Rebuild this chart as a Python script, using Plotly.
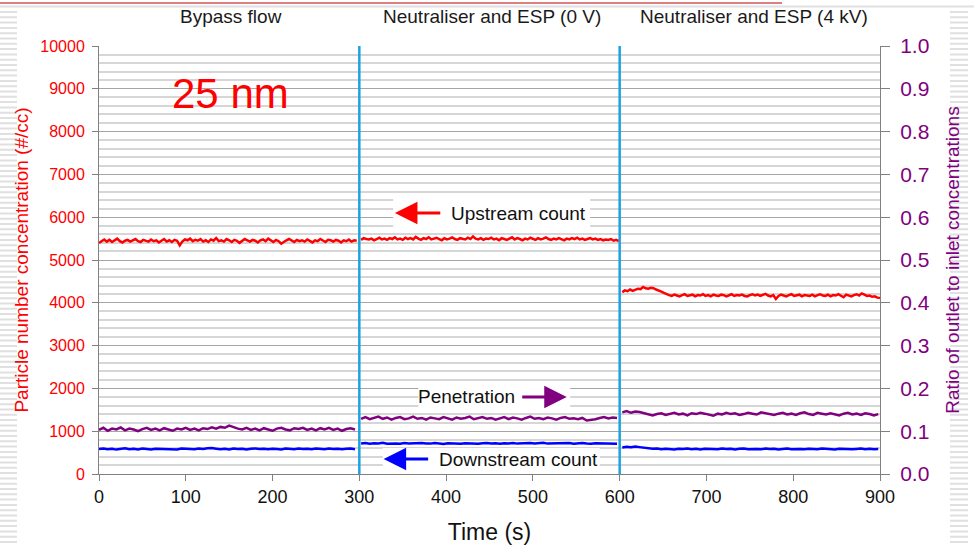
import plotly.graph_objects as go

# ---------------- data ----------------
t_up_bypass = list(range(0, 300, 3))
t_up_esp0 = list(range(302, 600, 3))
t_up_esp4 = list(range(603, 901, 3))
t_bypass = list(range(0, 300, 5))
t_esp0 = list(range(302, 600, 5))
t_esp4 = list(range(603, 900, 5))

upstream_bypass = [5400, 5450, 5480, 5430, 5470, 5420, 5460, 5500, 5440, 5410,
                   5450, 5470, 5430, 5460, 5490, 5440, 5420, 5470, 5450, 5430,
                   5480, 5440, 5460, 5410, 5450, 5490, 5430, 5460, 5420, 5470,
                   5450, 5340, 5430, 5480, 5460, 5500, 5440, 5470, 5450, 5490,
                   5430, 5460, 5420, 5480, 5450, 5510, 5440, 5460, 5430, 5490,
                   5460, 5420, 5470, 5450, 5400, 5440, 5490, 5460, 5430, 5470,
                   5450, 5410, 5460, 5480, 5440, 5500, 5460, 5420, 5470, 5440,
                   5380, 5430, 5460, 5490, 5450, 5420, 5470, 5440, 5460, 5430,
                   5480, 5450, 5410, 5460, 5440, 5490, 5450, 5420, 5470, 5460,
                   5430, 5470, 5450, 5410, 5460, 5440, 5480, 5430, 5460, 5450]
upstream_esp0 = [5470, 5510, 5490, 5480, 5500, 5460, 5490, 5520, 5480, 5500,
                 5470, 5510, 5490, 5530, 5480, 5500, 5470, 5520, 5490, 5510,
                 5480, 5540, 5500, 5470, 5510, 5490, 5530, 5480, 5500, 5520,
                 5490, 5460, 5510, 5480, 5500, 5530, 5490, 5470, 5510, 5500,
                 5480, 5520, 5490, 5550, 5500, 5480, 5510, 5470, 5500, 5490,
                 5520, 5480, 5500, 5460, 5510, 5490, 5470, 5500, 5530, 5480,
                 5510, 5490, 5460, 5500, 5480, 5520, 5490, 5470, 5510, 5480,
                 5500, 5530, 5490, 5470, 5500, 5480, 5510, 5490, 5460, 5500,
                 5480, 5510, 5490, 5520, 5480, 5500, 5470, 5490, 5510, 5480,
                 5500, 5470, 5490, 5460, 5480, 5470, 5490, 5450, 5470, 5440]
upstream_esp4 = [4250, 4290, 4270, 4310, 4280, 4300, 4330, 4320, 4370, 4340,
                 4330, 4350, 4340, 4310, 4290, 4260, 4230, 4200, 4180, 4160,
                 4190, 4170, 4150, 4180, 4200, 4160, 4170, 4190, 4150, 4180,
                 4170, 4200, 4160, 4180, 4150, 4190, 4170, 4160, 4190, 4180,
                 4150, 4170, 4200, 4160, 4180, 4170, 4190, 4160, 4150, 4180,
                 4200, 4170, 4190, 4160, 4180, 4210, 4170, 4150, 4180, 4090,
                 4160, 4190, 4170, 4150, 4180, 4200, 4160, 4170, 4190, 4150,
                 4180, 4170, 4160, 4190, 4150, 4180, 4200, 4170, 4160, 4190,
                 4150, 4180, 4170, 4200, 4160, 4130, 4190, 4170, 4150, 4180,
                 4200, 4170, 4220, 4190, 4160, 4170, 4140, 4150, 4120, 4110]

downstream_bypass = [585, 598, 578, 592, 570, 588, 600, 580, 590, 575, 595, 583, 572, 590, 586,
                     598, 580, 588, 575, 593, 584, 590, 578, 596, 585, 600, 605, 592, 580, 588,
                     575, 594, 583, 590, 570, 588, 596, 582, 590, 578, 592, 585, 575, 594, 587,
                     580, 598, 584, 590, 576, 593, 585, 579, 595, 582, 590, 576, 588, 594, 580]
downstream_esp0 = [710, 722, 705, 718, 712, 728, 708, 720, 715, 705, 725, 712, 718, 708, 722,
                   715, 710, 726, 712, 704, 720, 714, 725, 708, 718, 712, 722, 706, 716, 724,
                   710, 718, 705, 720, 714, 726, 710, 716, 706, 722, 713, 718, 728, 710, 715,
                   705, 720, 714, 722, 708, 716, 724, 712, 706, 718, 714, 722, 710, 716, 706]
downstream_esp4 = [620, 635, 625, 640, 628, 615, 600, 590, 595, 580, 592, 585, 575, 590, 583,
                   596, 580, 588, 574, 592, 584, 590, 577, 595, 583, 590, 572, 588, 596, 580,
                   590, 584, 576, 594, 582, 590, 575, 588, 594, 580, 590, 583, 576, 592, 586,
                   578, 594, 584, 588, 575, 592, 583, 590, 578, 586, 594, 580, 588, 576, 584]

penetration_bypass = [0.103, 0.108, 0.101, 0.106, 0.104, 0.109, 0.102, 0.106, 0.104, 0.100, 0.105, 0.108,
                      0.103, 0.106, 0.102, 0.107, 0.104, 0.101, 0.106, 0.104, 0.108, 0.103, 0.106, 0.102,
                      0.107, 0.105, 0.109, 0.106, 0.110, 0.108, 0.113, 0.109, 0.106, 0.104, 0.108, 0.103,
                      0.106, 0.102, 0.107, 0.104, 0.101, 0.106, 0.108, 0.104, 0.102, 0.107, 0.105, 0.108,
                      0.103, 0.106, 0.102, 0.107, 0.104, 0.108, 0.103, 0.106, 0.101, 0.105, 0.107, 0.104]
penetration_esp0 = [0.129, 0.133, 0.128, 0.131, 0.134, 0.129, 0.132, 0.127, 0.131, 0.133, 0.128, 0.130,
                    0.134, 0.129, 0.131, 0.127, 0.132, 0.130, 0.128, 0.133, 0.130, 0.127, 0.132, 0.129,
                    0.131, 0.134, 0.128, 0.130, 0.133, 0.129, 0.131, 0.127, 0.130, 0.133, 0.128, 0.132,
                    0.130, 0.127, 0.131, 0.134, 0.129, 0.131, 0.128, 0.132, 0.130, 0.127, 0.131, 0.133,
                    0.129, 0.130, 0.128, 0.131, 0.125, 0.126, 0.128, 0.131, 0.133, 0.130, 0.132, 0.131]
penetration_esp4 = [0.144, 0.147, 0.143, 0.146, 0.145, 0.142, 0.140, 0.137, 0.140, 0.142, 0.138, 0.141,
                    0.143, 0.139, 0.141, 0.137, 0.142, 0.140, 0.143, 0.141, 0.138, 0.136, 0.141, 0.139,
                    0.143, 0.140, 0.142, 0.138, 0.140, 0.143, 0.141, 0.139, 0.144, 0.142, 0.140, 0.138,
                    0.141, 0.143, 0.139, 0.141, 0.138, 0.142, 0.144, 0.140, 0.138, 0.143, 0.141, 0.139,
                    0.142, 0.140, 0.137, 0.141, 0.143, 0.139, 0.141, 0.138, 0.142, 0.140, 0.137, 0.140]

phase_labels = ["Bypass flow", "Neutraliser and ESP (0 V)", "Neutraliser and ESP (4 kV)"]
phase_label_x = [152, 453, 755]
phase_bounds = [300, 600]

RED = "#FF0000"
BLUE = "#0000FF"
PURPLE = "#800080"
VBLUE = "#1BA3DF"
FONT = "Liberation Sans, Arial, sans-serif"

fig = go.Figure()

segments = [((t_up_bypass, upstream_bypass), (t_bypass, downstream_bypass, penetration_bypass)),
            ((t_up_esp0, upstream_esp0), (t_esp0, downstream_esp0, penetration_esp0)),
            ((t_up_esp4, upstream_esp4), (t_esp4, downstream_esp4, penetration_esp4))]
for (tu, up), (t, down, pen) in segments:
    fig.add_trace(go.Scatter(x=tu, y=up, mode="lines", line=dict(color=RED, width=2.5),
                             name="Upstream count", showlegend=False))
    fig.add_trace(go.Scatter(x=t, y=down, mode="lines", line=dict(color=BLUE, width=2.5),
                             name="Downstream count", showlegend=False))
    fig.add_trace(go.Scatter(x=t, y=pen, mode="lines", line=dict(color=PURPLE, width=2.5),
                             name="Penetration", yaxis="y2", showlegend=False))

shapes = []
for b in phase_bounds:
    shapes.append(dict(type="line", xref="x", yref="y", x0=b, x1=b, y0=0, y1=10000,
                       line=dict(color=VBLUE, width=2.5), layer="above"))

# white boxes behind the in-plot labels
for (x0, x1, y0, y1) in [(339, 566, 5771, 6425), (368, 543, 1519, 2056), (327, 577, 93, 607)]:
    shapes.append(dict(type="rect", xref="x", yref="y", x0=x0, x1=x1, y0=y0, y1=y1,
                       fillcolor="white", line=dict(width=0), layer="between"))

# slide decoration: striped side bands and top rule (pixel -> paper)
PL, PW, PT, PH = 99, 781, 46, 428
def px(x):
    return (x - PL) / PW
def py(y):
    return (PT + PH - y) / PH

def stripes(x0, x1):
    p = ""
    y = 12
    while y < 547:
        p += f"M{px(x0):.5f},{py(y):.5f} L{px(x1):.5f},{py(y):.5f} "
        y += 5.3
    return p

for (a, b) in [(0, 17), (950, 968)]:
    shapes.append(dict(type="path", xref="paper", yref="paper", path=stripes(a, b),
                       line=dict(color="#E0E0E0", width=2), layer="below"))
shapes.append(dict(type="line", xref="paper", yref="paper", x0=px(0), x1=px(782), y0=py(3), y1=py(3),
                   line=dict(color="#C00000", width=1.2)))
shapes.append(dict(type="line", xref="paper", yref="paper", x0=px(0), x1=px(974), y0=py(6.5), y1=py(6.5),
                   line=dict(color="#E0E0E0", width=2)))

annotations = []
for lab, x in zip(phase_labels, phase_label_x):
    annotations.append(dict(text=lab, x=x, xref="x", y=py(17), yref="paper", yanchor="middle",
                            showarrow=False, font=dict(family=FONT, size=19, color="#1a1a1a")))
annotations.append(dict(text="25 nm", x=152, xref="x", y=8900, yref="y", showarrow=False,
                        font=dict(family=FONT, size=42, color=RED)))

# arrows (tip, tail, level)
for (tip, tail, yv, col) in [(341, 395, 6098, RED), (539, 486, 1800, PURPLE), (328, 381, 350, BLUE)]:
    annotations.append(dict(text="", x=tip, y=yv, xref="x", yref="y", ax=tail, ay=yv,
                            axref="x", ayref="y", showarrow=True, arrowhead=2, arrowsize=1.5,
                            arrowwidth=3, arrowcolor=col, standoff=0))
for (txt, x, yv) in [("Upstream count", 483, 6098), ("Penetration", 424, 1800), ("Downstream count", 483, 350)]:
    annotations.append(dict(text=txt, x=x, y=yv, xref="x", yref="y", showarrow=False,
                            font=dict(family=FONT, size=19, color="#111111")))

fig.update_layout(
    width=974, height=547,
    margin=dict(l=99, r=94, t=46, b=73, autoexpand=False),
    paper_bgcolor="white", plot_bgcolor="white",
    shapes=shapes, annotations=annotations,
    showlegend=False,
    xaxis=dict(range=[0, 900], dtick=100, tick0=0, showgrid=False, zeroline=False, automargin=False,
               showline=True, linecolor="#808080", linewidth=1,
               ticks="outside", ticklen=6, tickcolor="#808080",
               tickfont=dict(family=FONT, size=18, color="#111111"),
               title=dict(text="Time (s)", font=dict(family=FONT, size=23, color="#111111"), standoff=18)),
    yaxis=dict(range=[0, 10000], dtick=1000, tick0=0, tickformat="d", zeroline=False, automargin=False,
               showgrid=True, gridcolor="#A6A6A6", gridwidth=1,
               minor=dict(dtick=200, showgrid=True, gridcolor="#D6D6D6", gridwidth=1.5),
               showline=True, linecolor="#808080", linewidth=1,
               ticks="outside", ticklen=6, tickcolor="#808080", ticklabelstandoff=4,
               tickfont=dict(family=FONT, size=16, color=RED),
               title=dict(text="Particle number concentration (#/cc)",
                          font=dict(family=FONT, size=19, color=RED), standoff=6)),
    yaxis2=dict(range=[0, 1], dtick=0.1, tick0=0, tickformat=".1f", overlaying="y", side="right",
                showgrid=False, zeroline=False, automargin=False,
                showline=True, linecolor="#808080", linewidth=1,
                ticks="outside", ticklen=9, tickcolor="#808080", ticklabelstandoff=6,
                tickfont=dict(family=FONT, size=21, color=PURPLE),
                title=dict(text="Ratio of outlet to inlet concentrations",
                           font=dict(family=FONT, size=19, color=PURPLE), standoff=16)),
)

fig.write_html("out.html")
